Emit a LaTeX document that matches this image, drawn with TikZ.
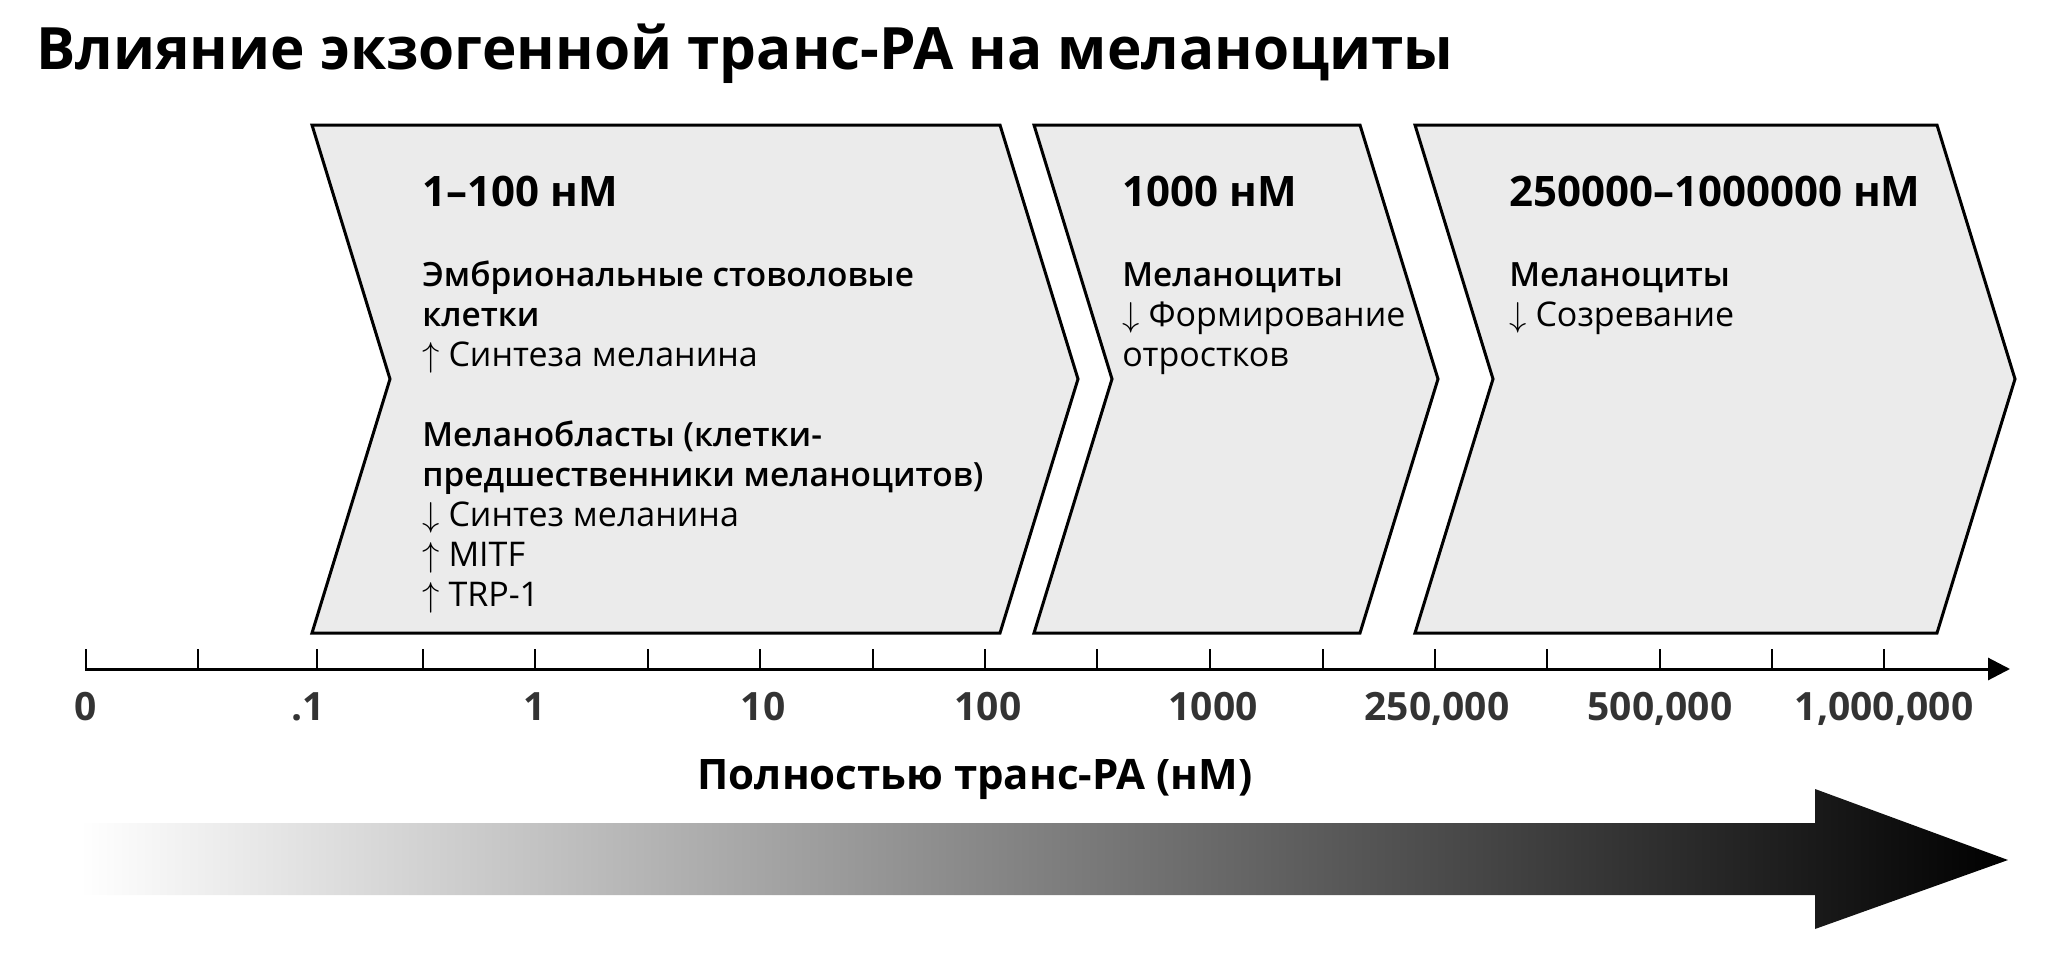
\documentclass[tikz,border=0pt]{standalone}
\usepackage{fontspec}
\setmainfont{Open Sans}
\IfFontExistsTF{Open Sans Semibold}{\newfontfamily\cellfont{Open Sans Semibold}}{%
  \IfFontExistsTF{OpenSans-Semibold}{\newfontfamily\cellfont{OpenSans-Semibold}}{%
    \newfontfamily\cellfont{Open Sans Bold}[FakeStretch=0.92]}}
\usetikzlibrary{arrows.meta}
\definecolor{chevronfill}{HTML}{EBEBEB}
\definecolor{labelgray}{HTML}{333333}
\tikzstyle{chevron}=[draw=black, fill=chevronfill, line width=1.5pt, line join=miter]
\tikzstyle{title}=[anchor=base west, inner sep=0pt, font=\bfseries\fontsize{29.2}{35}\selectfont]
\tikzstyle{rangehead}=[anchor=base west, inner sep=0pt, font=\bfseries\fontsize{21}{25}\selectfont]
\tikzstyle{cellname}=[anchor=base west, inner sep=0pt, font=\cellfont\fontsize{16.7}{20}\selectfont]
\tikzstyle{effect}=[anchor=base west, inner sep=0pt, font=\fontsize{17}{20}\selectfont]
\tikzstyle{tick}=[line width=1pt]
\tikzstyle{axis}=[line width=1.5pt, -{Triangle[length=11pt, width=11pt]}]
\tikzstyle{ticklabel}=[anchor=base, inner sep=0pt, text=labelgray, font=\bfseries\fontsize{19.5}{23}\selectfont]
\tikzstyle{axistitle}=[anchor=base, inner sep=0pt, font=\bfseries\fontsize{21}{25}\selectfont]

\begin{document}
\begin{tikzpicture}[x=0.5pt, y=-0.5pt]
      \useasboundingbox (0,0) rectangle (2068,953);

      \node[title] (title) at (36,69) {Влияние экзогенной транс-РА на меланоциты};

      \foreach \l/\r in {312/1000, 1034/1360, 1415/1937}{
        \draw[chevron] (\l,125) -- (\r,125) -- ({\r+78},379) -- (\r,633) -- (\l,633) -- ({\l+78},379) -- cycle;
      }

      \node[rangehead] (range1) at (422,206) {1–100 нМ};
      \node[cellname] (cell1a) at (422,286) {Эмбриональные стоволовые};
      \node[cellname] (cell1b) at (422,326) {клетки};
      \node[effect] (effect1a) at (422,366) {$\uparrow$ Синтеза меланина};
      \node[cellname] (cell1c) at (422,446) {Меланобласты (клетки-};
      \node[cellname] (cell1d) at (422,486) {предшественники меланоцитов)};
      \node[effect] (effect1b) at (422,526) {$\downarrow$ Синтез меланина};
      \node[effect] (effect1c) at (422,566) {$\uparrow$ MITF};
      \node[effect] (effect1d) at (422,606) {$\uparrow$ TRP-1};

      \node[rangehead] (range2) at (1122,206) {1000 нМ};
      \node[cellname] (cell2) at (1122,286) {Меланоциты};
      \node[effect] (effect2a) at (1122,326) {$\downarrow$ Формирование};
      \node[effect] (effect2b) at (1122,366) {отростков};

      \node[rangehead] (range3) at (1509,206) {250000–1000000 нМ};
      \node[cellname] (cell3) at (1509,286) {Меланоциты};
      \node[effect] (effect3) at (1509,326) {$\downarrow$ Созревание};

      \coordinate (axisStart) at (85,669);
      \coordinate (axisEnd) at (2010,669);
      \draw[axis] (axisStart) -- (axisEnd);
      \foreach \x in {86,198,317,423,535,648,760,873,985,1097,1210,1323,1435,1547,1660,1772,1884}{
        \draw[tick] (\x,669) -- (\x,649);
      }
      \foreach \x/\t [count=\i] in {86/0, 308/.1, 535/1, 763/10, 988/100, 1213/1000, 1437/{250,000}, 1660/{500,000}, 1884/{1,000,000}}{
        \node[ticklabel] (label\i) at (\x,720) {\t};
      }
      \node[axistitle] (axisTitle) at (975,789) {Полностью транс-РА (нМ)};

      \shade[left color=white, right color=black] (80,823) -- (1815,823) -- (1815,789) -- (2008,860) -- (1815,929) -- (1815,895) -- (80,895) -- cycle;
\end{tikzpicture}
\end{document}
